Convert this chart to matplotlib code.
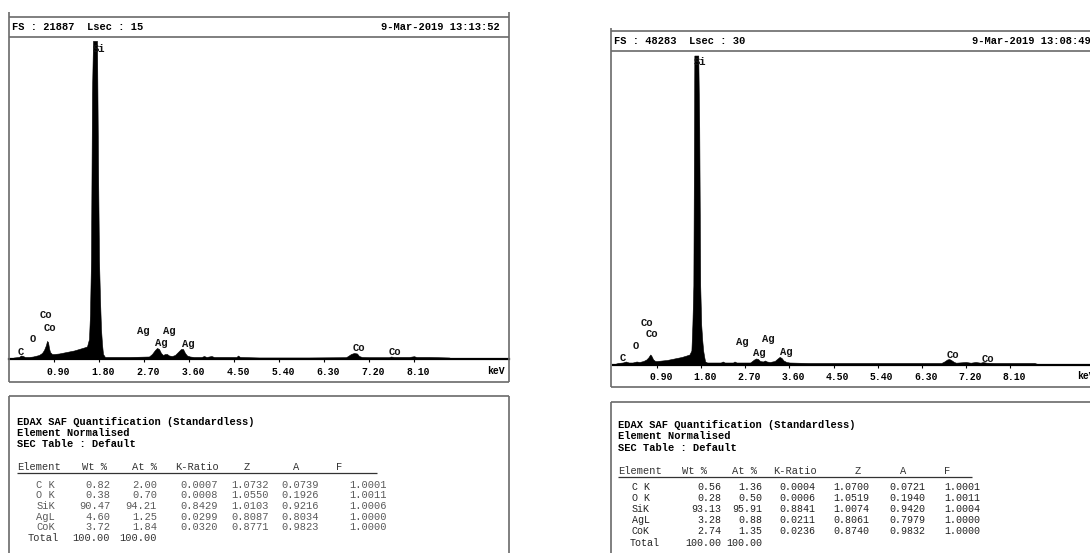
import matplotlib
matplotlib.use('Agg')
import matplotlib.pyplot as plt
from matplotlib.transforms import ScaledTranslation

# ---------------- data ----------------
tick_keV = [0.9, 1.8, 2.7, 3.6, 4.5, 5.4, 6.3, 7.2, 8.1]
tick_labels = ['0.90', '1.80', '2.70', '3.60', '4.50', '5.40', '6.30', '7.20', '8.10']

left_fs = 21887
left_header = 'FS : 21887  Lsec : 15'
left_date = '9-Mar-2019 13:13:52'
left_keV = [0.00, 0.10, 0.20, 0.24, 0.28, 0.32, 0.40, 0.48, 0.52, 0.60,
            0.66, 0.70, 0.74, 0.76, 0.78, 0.80, 0.82, 0.86, 0.90, 1.00,
            1.10, 1.20, 1.30, 1.40, 1.50, 1.56, 1.60, 1.62, 1.64, 1.66,
            1.68, 1.76, 1.78, 1.80, 1.82, 1.84, 1.86, 1.88, 1.92, 2.00,
            2.40, 2.80, 2.86, 2.92, 2.96, 3.00, 3.04, 3.08, 3.12, 3.16,
            3.20, 3.26, 3.32, 3.38, 3.44, 3.48, 3.52, 3.56, 3.62, 3.70,
            3.85, 3.90, 3.95, 4.05, 4.10, 4.20, 4.55, 4.58, 4.62, 5.00,
            6.00, 6.74, 6.78, 6.84, 6.90, 6.96, 7.00, 7.06, 7.20, 7.60,
            7.64, 7.70, 8.00, 8.10, 8.15, 8.40, 8.80, 8.90]
left_counts = [0, 102, 136, 238, 204, 136, 136, 170, 204, 272,
               408, 612, 952, 1224, 1156, 748, 476, 340, 340, 374,
               442, 510, 578, 680, 782, 850, 1360, 3060, 6800, 18020,
               21624, 21624, 13328, 6732, 4080, 2040, 1020, 340, 136, 136,
               136, 170, 340, 612, 748, 680, 408, 272, 340, 340,
               238, 204, 272, 476, 680, 680, 408, 238, 170, 136,
               136, 204, 136, 204, 136, 136, 136, 238, 136, 102,
               102, 122, 204, 340, 408, 374, 204, 136, 122, 122,
               170, 136, 136, 190, 136, 136, 102, 0]

right_fs = 48283
right_header = 'FS : 48283  Lsec : 30'
right_date = '9-Mar-2019 13:08:49'
right_keV = [0.00, 0.10, 0.20, 0.26, 0.32, 0.40, 0.48, 0.54, 0.62, 0.68,
             0.72, 0.76, 0.78, 0.82, 0.86, 0.90, 1.00, 1.10, 1.20, 1.30,
             1.40, 1.50, 1.56, 1.60, 1.62, 1.64, 1.66, 1.74, 1.76, 1.78,
             1.80, 1.82, 1.84, 1.86, 1.88, 1.92, 2.20, 2.24, 2.28, 2.45,
             2.48, 2.52, 2.80, 2.84, 2.88, 2.92, 2.96, 3.00, 3.06, 3.10,
             3.14, 3.20, 3.30, 3.36, 3.40, 3.44, 3.48, 3.54, 3.60, 4.00,
             6.70, 6.76, 6.82, 6.86, 6.90, 6.96, 7.00, 7.20, 7.30, 7.40,
             7.50, 7.55, 7.62, 7.80, 8.60, 8.70]
right_counts = [0, 231, 308, 462, 308, 308, 462, 385, 539, 770,
                1078, 1540, 1386, 770, 539, 539, 616, 693, 847, 1001,
                1155, 1386, 1540, 2156, 6160, 12166, 47586, 47586, 36498, 12166,
                6160, 3850, 2156, 1232, 462, 308, 308, 462, 308, 308,
                462, 308, 308, 539, 770, 924, 847, 539, 462, 616,
                462, 385, 539, 924, 1170, 1001, 616, 385, 308, 231,
                231, 462, 770, 847, 693, 385, 277, 385, 277, 385,
                277, 385, 277, 231, 231, 0]

peak_labels = ['Si', 'C', 'O', 'Co', 'Co', 'Ag', 'Ag', 'Ag', 'Ag', 'Co', 'Co']

table_title = ['EDAX SAF Quantification (Standardless)', 'Element Normalised', 'SEC Table : Default']
col_names = ['Element', 'Wt %', 'At %', 'K-Ratio', 'Z', 'A', 'F']
elements = ['C K', 'O K', 'SiK', 'AgL', 'CoK']

left_wt = ['0.82', '0.38', '90.47', '4.60', '3.72']
left_at = ['2.00', '0.70', '94.21', '1.25', '1.84']
left_kr = ['0.0007', '0.0008', '0.8429', '0.0299', '0.0320']
left_z = ['1.0732', '1.0550', '1.0103', '0.8087', '0.8771']
left_a = ['0.0739', '0.1926', '0.9216', '0.8034', '0.9823']
left_f = ['1.0001', '1.0011', '1.0006', '1.0000', '1.0000']

right_wt = ['0.56', '0.28', '93.13', '3.28', '2.74']
right_at = ['1.36', '0.50', '95.91', '0.88', '1.35']
right_kr = ['0.0004', '0.0006', '0.8841', '0.0211', '0.0236']
right_z = ['1.0700', '1.0519', '1.0074', '0.8061', '0.8740']
right_a = ['0.0721', '0.1940', '0.9420', '0.7979', '0.9832']
right_f = ['1.0001', '1.0011', '1.0004', '1.0000', '1.0000']
total_wt = '100.00'
total_at = '100.00'

# ---------------- figure ----------------
W, H = 1090, 553
fig = plt.figure(figsize=(W / 100, H / 100), dpi=100)
fig.patch.set_facecolor('white')
MONO = 'Liberation Mono'
BOX = '#6a6a6a'

ov = fig.add_axes([0, 0, 1, 1], zorder=5)
ov.set_xlim(0, W)
ov.set_ylim(H, 0)
ov.axis('off')
ov.patch.set_alpha(0)


def axes_px(x0, y_top, x1, y_bot):
    return fig.add_axes([x0 / W, 1 - y_bot / H, (x1 - x0) / W, (y_bot - y_top) / H])


def line(x0, y0, x1, y1, color=BOX, lw=1.2):
    ov.plot([x0, x1], [y0, y1], color=color, lw=lw, solid_capstyle='butt', clip_on=False)


def txt(x, y, s, ha='left', weight='bold', size=7.5, color='black'):
    ov.text(x, y, s, ha=ha, va='center', fontfamily=MONO, fontweight=weight,
            fontsize=size, color=color)


def spectrum(x0, ytop, x1, ybase, keV, counts, fs):
    ax = axes_px(x0, ytop, x1, ybase)
    ax.set_xlim(0, 10)
    ax.set_ylim(0, fs)
    ax.fill_between(keV, counts, color='black', lw=0.4, edgecolor='black')
    ax.axhline(0, color='black', lw=1.6, clip_on=False)
    for s in ax.spines.values():
        s.set_visible(False)
    ax.set_yticks([])
    ax.set_xticks(tick_keV)
    ax.set_xticklabels(tick_labels, fontfamily=MONO, fontweight='bold', fontsize=7)
    ax.tick_params(axis='x', length=2.5, width=0.8, pad=3.0, direction='out', color='black')
    off = ScaledTranslation(4 / 100, 0, fig.dpi_scale_trans)
    for lab in ax.get_xticklabels():
        lab.set_transform(lab.get_transform() + off)
    ax.patch.set_alpha(0)
    return ax


# ---------------- left panel ----------------
line(9, 12, 9, 382)
line(509, 12, 509, 382)
line(9, 17, 509, 17)
line(9, 37, 509, 37)
line(9, 382, 509, 382)
txt(12, 27, left_header)
txt(500, 27, left_date, ha='right')
spectrum(9, 37, 509, 359, left_keV, left_counts, left_fs)
txt(487, 371, 'keV', size=7)

left_label_px = [(99, 49), (21, 352), (33, 339), (50, 328), (46, 315),
                 (143, 331), (161, 343), (169, 331), (188, 344), (359, 348), (395, 352)]
for lab, (x, y) in zip(peak_labels, left_label_px):
    txt(x, y, lab, ha='center', size=7.6, color='#141414')

line(9, 396, 509, 396)
line(9, 396, 9, 560)
line(509, 396, 509, 560)
for s, y in zip(table_title, [422, 432.5, 444]):
    txt(17, y, s)
hy = 467.5
hc = '#333333'
txt(17, hy, col_names[0], weight='normal', color=hc)
txt(82, hy, col_names[1], weight='normal', color=hc)
txt(132, hy, col_names[2], weight='normal', color=hc)
txt(175, hy, col_names[3], weight='normal', color=hc)
txt(247, hy, col_names[4], ha='center', weight='normal', color=hc)
txt(296, hy, col_names[5], ha='center', weight='normal', color=hc)
txt(339, hy, col_names[6], ha='center', weight='normal', color=hc)
line(17, 473, 377, 473, color=hc, lw=0.9)
rows_y = [484.5, 495, 505.7, 516.5, 527.2]
gray = '#5a5a5a'
for i, y in enumerate(rows_y):
    txt(55, y, elements[i], ha='right', weight='normal', color=gray)
    txt(110, y, left_wt[i], ha='right', weight='normal', color=gray)
    txt(157, y, left_at[i], ha='right', weight='normal', color=gray)
    txt(218, y, left_kr[i], ha='right', weight='normal', color=gray)
    txt(269, y, left_z[i], ha='right', weight='normal', color=gray)
    txt(319, y, left_a[i], ha='right', weight='normal', color=gray)
    txt(387, y, left_f[i], ha='right', weight='normal', color=gray)
txt(28, 538, 'Total', weight='normal', color=hc)
txt(110, 538, total_wt, ha='right', weight='normal', color=hc)
txt(157, 538, total_at, ha='right', weight='normal', color=hc)

# ---------------- right panel ----------------
line(611, 28, 611, 387)
line(611, 30.5, 1100, 30.5)
line(611, 51, 1100, 51)
line(611, 387, 1100, 387)
txt(614, 41, right_header)
txt(1091, 41, right_date, ha='right')
spectrum(613, 51, 1103, 364.5, right_keV, right_counts, right_fs)
txt(1077, 376, 'keV', size=7)

right_label_px = [(700, 62), (623, 358), (636, 346), (647, 323), (652, 334),
                  (742, 342), (759, 353), (768, 339), (786, 352), (953, 355), (988, 359)]
for lab, (x, y) in zip(peak_labels, right_label_px):
    txt(x, y, lab, ha='center', size=7.6, color='#141414')

line(611, 402, 1100, 402)
line(611, 402, 611, 560)
for s, y in zip(table_title, [425, 436, 448.3]):
    txt(618, y, s)
hy = 471
txt(618, hy, col_names[0], weight='normal', color=hc)
txt(682, hy, col_names[1], weight='normal', color=hc)
txt(732, hy, col_names[2], weight='normal', color=hc)
txt(773, hy, col_names[3], weight='normal', color=hc)
txt(858, hy, col_names[4], ha='center', weight='normal', color=hc)
txt(903, hy, col_names[5], ha='center', weight='normal', color=hc)
txt(947, hy, col_names[6], ha='center', weight='normal', color=hc)
line(618, 477, 972, 477, color=hc, lw=0.9)
rows_y = [487.3, 498.3, 509.3, 520, 530.7]
dark = '#222222'
rs = 7.2
for i, y in enumerate(rows_y):
    txt(650, y, elements[i], ha='right', weight='normal', color=dark, size=rs)
    txt(721, y, right_wt[i], ha='right', weight='normal', color=dark, size=rs)
    txt(762, y, right_at[i], ha='right', weight='normal', color=dark, size=rs)
    txt(815, y, right_kr[i], ha='right', weight='normal', color=dark, size=rs)
    txt(869, y, right_z[i], ha='right', weight='normal', color=dark, size=rs)
    txt(925, y, right_a[i], ha='right', weight='normal', color=dark, size=rs)
    txt(980, y, right_f[i], ha='right', weight='normal', color=dark, size=rs)
txt(630, 542.7, 'Total', weight='normal', color=dark, size=rs)
txt(721, 542.7, total_wt, ha='right', weight='normal', color=dark, size=rs)
txt(762, 542.7, total_at, ha='right', weight='normal', color=dark, size=rs)

fig.savefig('out.png', dpi=100, facecolor='white')
